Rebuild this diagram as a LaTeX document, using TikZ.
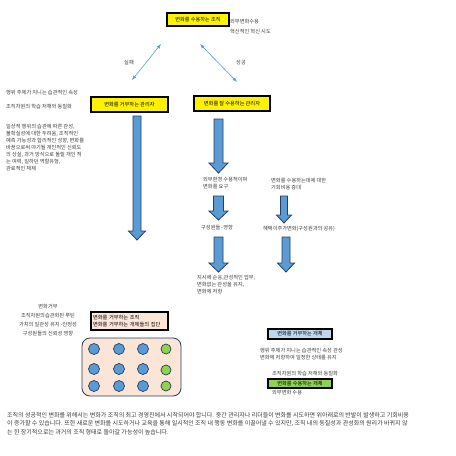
\documentclass[tikz,border=0pt]{standalone}
\usepackage{fontspec}
\setmainfont{Noto Sans CJK KR}
\usepackage{tikz}
\usetikzlibrary{arrows}

\begin{document}
\begin{tikzpicture}[x=1pt,y=-1pt,
  note/.style={inner sep=0pt,align=left,text=noteColor,font=\fontsize{5.2}{7}\selectfont},
  boxlabel/.style={draw=black,line width=1.6pt,inner sep=0pt,text=black,font=\fontsize{5.2}{7}\selectfont},
  blockarr/.style={draw=arrBorder,line width=0.8pt,fill=arrFill},
  dot/.style={draw=arrBorder,line width=0.7pt},
  link/.style={<->,>=latex,draw=linkColor,line width=0.6pt}]
\definecolor{noteColor}{RGB}{60,60,60}
\definecolor{arrFill}{RGB}{91,155,213}
\definecolor{arrBorder}{RGB}{38,62,98}
\definecolor{linkColor}{RGB}{91,155,213}
\definecolor{peach}{RGB}{251,229,214}
\definecolor{lightBlue}{RGB}{189,215,238}
\definecolor{grassGreen}{RGB}{146,208,80}
\useasboundingbox[fill=white] (0,0) rectangle (456,456);
\node[boxlabel,fill=yellow,minimum width=62pt,minimum height=13pt] (orgaccept) at (198,19.5) {변화를 수용하는 조직};
\node[note,anchor=west] (extaccept) at (230,22) {외부변화수용};
\node[note,anchor=west] (innovate) at (230,32) {혁신적인 혁신 시도};
\coordinate (failtop) at (161,44);
\coordinate (failbot) at (132,80);
\coordinate (succtop) at (200,44);
\coordinate (succbot) at (237,82);
\draw[link] (failbot) -- (failtop);
\draw[link] (succtop) -- (succbot);
\node[note] (fail) at (129,63) {실패};
\node[note] (succ) at (241,63) {성공};
\node[note,anchor=west] (habit) at (6,93) {행위 주체가 지니는 습관적인 속성};
\node[note,anchor=west] (homog) at (6,107) {조직차원의 학습 저해와 동질화};
\node[boxlabel,fill=yellow,minimum width=77pt,minimum height=15pt] (mgrreject) at (129.5,104.5) {변화를 거부하는 관리자};
\node[boxlabel,fill=yellow,minimum width=76pt,minimum height=15pt] (mgraccept) at (232,103.5) {변화를 잘 수용하는 관리자};
\node[note,anchor=north west] (reasons) at (6,124) {일상적 행위의 습관에 따른 관성,\\불확실성에 대한 두려움, 조직적인\\예측 가능성과 합리적인 성향, 변화를\\바꿈으로써 야기될 개인적인 신뢰도\\의 상실, 과거 방식으로 돌릴 개인 적\\는 여력, 일하던 역할유형,\\관료적인 체제};
\foreach \cx/\ty/\by/\sw/\hw/\hl in {137/116/240/4/8.5/9, 218.5/119/173/4.5/9.5/10, 218.5/196/220/5/9.5/9, 218.5/237/272/4.5/9.5/9, 284/196/223/3.5/7.5/8, 286/237/272/4/8.5/9}
  \draw[blockarr] (\cx-\sw,\ty) -- (\cx+\sw,\ty) -- (\cx+\sw,\by-\hl) -- (\cx+\hw,\by-\hl) -- (\cx,\by) -- (\cx-\hw,\by-\hl) -- (\cx-\sw,\by-\hl) -- cycle;
\node[note,anchor=north west] (envdemand) at (203,177) {외부환경 수용적이며\\변화를 요구};
\node[note,anchor=north west] (oppcost) at (271,178) {변화를 수용하는데에 대한\\기회비용 증대};
\node[note,anchor=west] (members) at (201,228) {구성원들 -영향};
\node[note,anchor=west] (sharing) at (263,229) {혜택이주가변화(구성원과의 공유)};
\node[note,anchor=north west] (inertia) at (197,275) {지시에 순응,관성적인 업무,\\변화없는 관성을 유지,\\변화에 저항};
\node[note,align=center,anchor=north,font=\fontsize{5.2}{9}\selectfont] (rejectnote) at (48,304) {변화거부\\조직차원의습관화된 루틴\\가치의 일관성 유지 -안정성\\구성원들의 신뢰성 영향};
\node[boxlabel,fill=peach,minimum width=77pt,minimum height=18pt,align=left,text width=73pt] (orgreject) at (129.5,321) {변화를 거부하는 조직\\변화를 거부하는 개체들의 집단};
\draw[fill=peach,draw=arrBorder,line width=0.8pt,rounded corners=8pt] (82,338) rectangle (181,396);
\foreach \cx in {94,119,143}
  \foreach \cy in {349,369,386}
    \draw[dot,fill=arrFill] (\cx,\cy) circle (5.5pt);
\foreach \cy in {349,370,386}
  \draw[dot,fill=grassGreen] (166,\cy) circle (5pt);
\node[boxlabel,fill=lightBlue,minimum width=64pt,minimum height=10pt] (indreject) at (300,334) {변화를 거부하는 개체};
\node[note,anchor=north west] (indhabit) at (260,348) {행위 주체가 지니는 습관적인 속성 관성\\변화에 저항하여 일정한 상태를 유지};
\node[note,anchor=west] (indhomog) at (272,374) {조직차원의 학습 저해와 동질화};
\node[boxlabel,fill=grassGreen,minimum width=64pt,minimum height=9pt] (indaccept) at (300,383.5) {변화를 수용하는 개체};
\node[note,anchor=west] (indext) at (272,393) {외부변화 수용};
\node[note,anchor=north west,font=\fontsize{6}{8.6}\selectfont] (summary) at (7,412) {조직의 성공적인 변화를 위해서는 변화가 조직의 최고 경영진에서 시작되어야 합니다. 중간 관리자나 리더들이 변화를 시도하면 위아래로의 반발이 발생하고 기회비용\\이 증가할 수 있습니다. 또한 새로운 변화를 시도하거나 교육을 통해 일시적인 조직 내 행동 변화를 이끌어낼 수 있지만, 조직 내의 동질성과 관성화의 원리가 바뀌지 않\\는 한 장기적으로는 과거의 조직 형태로 돌아갈 가능성이 높습니다.};
\end{tikzpicture}
\end{document}
